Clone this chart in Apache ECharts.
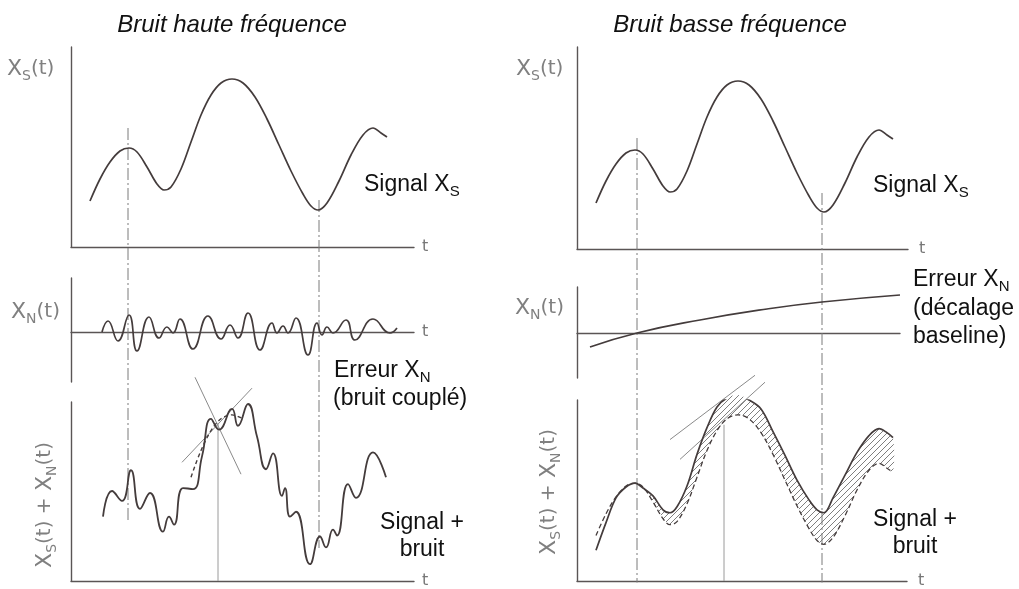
<!DOCTYPE html>
<html>
<head>
<meta charset="utf-8">
<script src="https://cdn.jsdelivr.net/npm/echarts@6/dist/echarts.min.js"></script>
<style>html,body{margin:0;padding:0;background:#fff}#c{width:1019px;height:589px}</style>
</head>
<body>
<div id="c"></div>
<script>
// ---------- data (x = time units, y = amplitude units) ----------
// clean signal X_S(t)
const sigT = [19,29,39,49,58,66,76,86,93,100,110,120,130,140,150,161,172,184,196,208,220,232,240,247,256,268,280,292,302,310,316];
const sigY = [46,68,85,96,99,95,80,63,57,60,78,105,132,152,164,168,164,150,128,102,76,53,41,37,44,66,92,112,119,114,110];
// high-frequency coupled noise X_N(t)
const hfNoiseT = [31,37,47,58,66,78,88,96,102,109,122,137,150,159,167,177,189,201,206,212,217,225,237,246,251,256,262,275,284,302,319,326];
const hfNoiseY = [0,11,-9,17,-19,15,-6,5,-1,13,-17,16,-7,7,-6,19,-18,9,-1,6,-1,14,-23,9,-3,5,-1,12,-8,13,-1,4];
// signal + high-frequency noise
const hfSumT = [32,41,51,60,69,79,92,98,103,112,122,131,140,148,161,167,177,186,195,202,211,214,219,225,239,249,255,262,266,277,285,302,315];
const hfSumY = [65,91,81,112,73,89,50,65,57,94,93,126,164,153,174,157,179,146,113,129,86,94,65,70,17,45,34,52,46,98,84,130,105];
// low-frequency baseline drift X_N(t)
const lfNoiseT = [13,60,123,190,245,323];
const lfNoiseY = [-14,0,13,24,31,38];
// signal + baseline drift (sampled at sigT)
const lfSumY = [31,59,84,95,99,94,86,72,69,75,96,128,155,176,185,188,183,174,151,127,102,82,72,69,84,107,130,147,154,150,145];
// guide lines
const hfGuideT = [57,248], hfGuideTop = [119,47], hfGuideBottom = [-273,-301];
const lfGuideT = [60,245], lfGuideTop = [111,56], lfGuideBottom = [-334,-334];
const hfTangentA = [[111,120],[181,195]], hfTangentB = [[124,206],[170,108]];
const lfTangentA = [[93,143],[178,208]], lfTangentB = [[103,123],[188,201]];
const hfPeakMark = [[147,160],[147,0]];
const lfPeakMark = [[147,158],[147,0]];
const hfDashRange = [120,180];
const lfHatchFrom = 58;

// ---------- chart ----------
const zip = (a,b) => a.map((t,i)=>[t,b[i]]);
const INK = '#443c3c';
const AX = '#5a5555';

const grids = [
  {left:71, top:47, width:343, height:200},   // 0 left signal
  {left:71, top:278, width:343, height:104},  // 1 left noise
  {left:71, top:402, width:343, height:181},  // 2 left sum
  {left:577, top:47, width:331, height:202},  // 3 right signal
  {left:577, top:287, width:323, height:91},  // 4 right noise
  {left:577, top:400, width:330, height:183}  // 5 right sum
];
const xr = [[0,343,true],[0,343,true],[0,343,true],[0,331,true],[0,323,false],[0,330,true]];
const yr = [[0,200],[-50,54],[0,181],[0,202],[-45,46],[0,183]];

const xAxes = xr.map((r,i)=>({
  gridIndex:i, type:'value', min:r[0], max:r[1],
  axisLine:{show:true, onZero:true, lineStyle:{color:AX, width:1.4}},
  axisTick:{show:false}, axisLabel:{show:false}, splitLine:{show:false},
  name: r[2] ? 't' : '', nameLocation:'end', nameGap: i>=3 ? 11 : 8,
  nameTextStyle:{color:'#777', fontSize:16, fontFamily:'DejaVu Sans'}
}));
const yAxes = yr.map((r,i)=>({
  gridIndex:i, type:'value', min:r[0], max:r[1],
  axisLine:{show:true, onZero:false, lineStyle:{color:AX, width:1.4}},
  axisTick:{show:false}, axisLabel:{show:false}, splitLine:{show:false}
}));

function curve(gi, data, extra){
  return Object.assign({type:'line', xAxisIndex:gi, yAxisIndex:gi, data, smooth:0.35,
    symbol:'none', silent:true, z:3, lineStyle:{color:INK, width:1.7}}, extra||{});
}
function guide(gi, data, color, width, type){
  return {type:'line', xAxisIndex:gi, yAxisIndex:gi, data, clip:false, symbol:'none', silent:true, z:2,
    lineStyle:{color, width, type}};
}
const dashDot = [12,3,2,3];

// hatch pattern
const pc = document.createElement('canvas'); pc.width=6; pc.height=6;
const g = pc.getContext('2d'); g.strokeStyle='#707070'; g.lineWidth=0.9;
g.beginPath(); g.moveTo(0,6); g.lineTo(6,0); g.moveTo(-1,1); g.lineTo(1,-1); g.moveTo(5,7); g.lineTo(7,5); g.stroke();

const series = [];
// left column
series.push(curve(0, zip(sigT,sigY)));
series.push(curve(1, zip(hfNoiseT,hfNoiseY), {smooth:0.5}));
series.push(curve(2, zip(hfSumT,hfSumY), {smooth:0.5, lineStyle:{color:INK, width:1.8}}));
series.push(curve(2, zip(sigT,sigY).filter(p=>p[0]>=hfDashRange[0]&&p[0]<=hfDashRange[1]), {lineStyle:{color:INK,width:1.4,type:[4,3]}}));
hfGuideT.forEach((t,i)=>series.push(guide(0, [[t,hfGuideTop[i]],[t,hfGuideBottom[i]]], '#7a7a7a', 1, dashDot)));
series.push(guide(2, hfTangentA, '#8a8a8a', 1, 'solid'));
series.push(guide(2, hfTangentB, '#8a8a8a', 1, 'solid'));
series.push(guide(2, hfPeakMark, '#9a9a9a', 1, 'solid'));
// right column
series.push(curve(3, zip(sigT,sigY)));
series.push(curve(4, zip(lfNoiseT,lfNoiseY), {smooth:0.5}));
// hatched band between signal (dashed) and signal+drift (solid)
series.push({type:'custom', coordinateSystem:'cartesian2d', xAxisIndex:5, yAxisIndex:5, silent:true, z:1,
  data:[0],
  renderItem:function(params, api){
    const idx = sigT.map((t,i)=>i).filter(i=>sigT[i]>=lfHatchFrom);
    const top = idx.map(i=>api.coord([sigT[i], lfSumY[i]]));
    const bot = idx.slice().reverse().map(i=>api.coord([sigT[i], sigY[i]]));
    return {type:'polygon', shape:{points: top.concat(bot), smooth:0.35},
      style:{fill:{image:pc, repeat:'repeat'}, stroke:null}};
  }});
series.push(curve(5, zip(sigT,sigY), {lineStyle:{color:INK,width:1.3,type:[5,3]}}));
series.push(curve(5, zip(sigT,lfSumY)));
lfGuideT.forEach((t,i)=>series.push(guide(3, [[t,lfGuideTop[i]],[t,lfGuideBottom[i]]], '#7a7a7a', 1, dashDot)));
series.push(guide(5, lfTangentA, '#8a8a8a', 1, 'solid'));
series.push(guide(5, lfTangentB, '#8a8a8a', 1, 'solid'));
series.push(guide(5, lfPeakMark, '#9a9a9a', 1, 'solid'));

// text
const F = 'Liberation Sans, Arial, sans-serif';
const FA = 'DejaVu Sans, sans-serif';
const richBig = {
  m:{fontSize:23, fontFamily:F, fill:'#111', lineHeight:28},
  s:{fontSize:15, fontFamily:F, fill:'#111', lineHeight:16, verticalAlign:'bottom'}
};
const richAx = {
  m:{fontSize:22, fontFamily:FA, fill:'#808080', lineHeight:28},
  s:{fontSize:14, fontFamily:FA, fill:'#808080', lineHeight:15, verticalAlign:'bottom'},
  p:{fontSize:20, fontFamily:FA, fill:'#808080', lineHeight:28}
};
function txt(x,y,text,opts){
  return Object.assign({type:'text', x, y, silent:true,
    style:Object.assign({text, fontSize:23, fontFamily:F, fill:'#111', align:'left', verticalAlign:'middle'}, (opts&&opts.style)||{})},
    (opts&&opts.el)||{});
}
const graphic = [
  txt(232,25,'Bruit haute fréquence',{style:{align:'center', fontStyle:'italic', fontSize:24}}),
  txt(730,25,'Bruit basse fréquence',{style:{align:'center', fontStyle:'italic', fontSize:24}}),
  txt(364,185,'{m|Signal X}{s|S}',{style:{rich:richBig}}),
  txt(873,186,'{m|Signal X}{s|S}',{style:{rich:richBig}}),
  txt(334,371,'{m|Erreur X}{s|N}',{style:{rich:richBig}}),
  txt(333,399,'(bruit couplé)'),
  txt(913,280,'{m|Erreur X}{s|N}',{style:{rich:richBig}}),
  txt(913,309,'(décalage'),
  txt(913,337,'baseline)'),
  txt(422,523,'Signal +',{style:{align:'center'}}),
  txt(422,550,'bruit',{style:{align:'center'}}),
  txt(915,520,'Signal +',{style:{align:'center'}}),
  txt(915,547,'bruit',{style:{align:'center'}}),
  txt(7,69,'{m|X}{s|S}{p|(t)}',{style:{rich:richAx}}),
  txt(516,69,'{m|X}{s|S}{p|(t)}',{style:{rich:richAx}}),
  txt(11,312,'{m|X}{s|N}{p|(t)}',{style:{rich:richAx}}),
  txt(515,308,'{m|X}{s|N}{p|(t)}',{style:{rich:richAx}}),
  txt(45,505,'{m|X}{s|S}{p|(t) + }{m|X}{s|N}{p|(t)}',{style:{rich:richAx, align:'center'}, el:{rotation:Math.PI/2}}),
  txt(549,492,'{m|X}{s|S}{p|(t) + }{m|X}{s|N}{p|(t)}',{style:{rich:richAx, align:'center'}, el:{rotation:Math.PI/2}})
];

const chart = echarts.init(document.getElementById('c'), null, {renderer:'canvas'});
chart.setOption({
  backgroundColor:'#fff', animation:false,
  grid: grids, xAxis: xAxes, yAxis: yAxes, series, graphic
});
</script>
</body>
</html>
